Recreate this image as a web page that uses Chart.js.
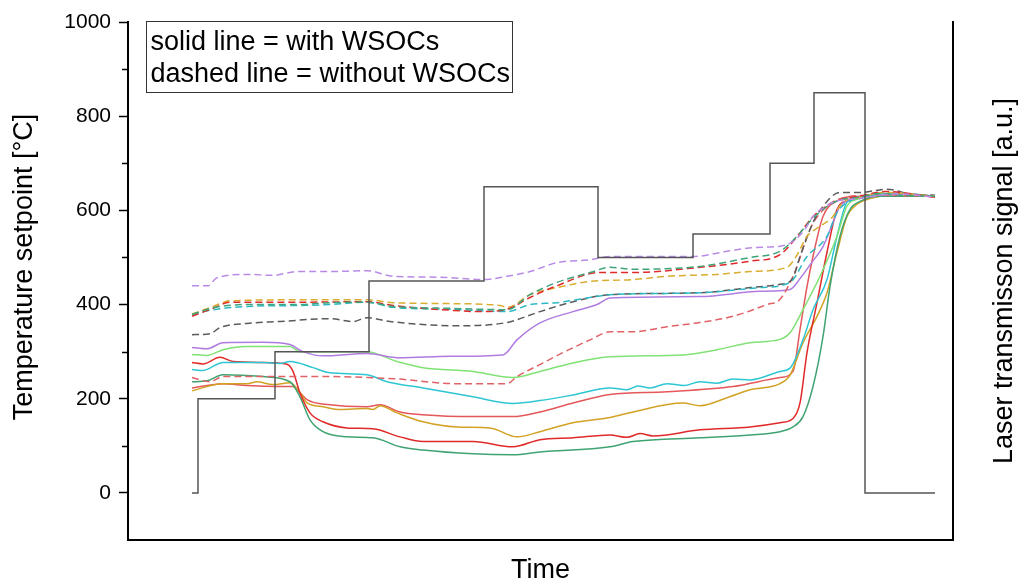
<!DOCTYPE html>
<html>
<head>
<meta charset="utf-8">
<title>Temperature setpoint and laser transmission</title>
<script src="https://cdn.jsdelivr.net/npm/chart.js@4/dist/chart.umd.min.js"></script>
<style>
  html, body { margin: 0; padding: 0; background: #fff; }
  canvas { display: block; }
</style>
</head>
<body>
<canvas id="chart" width="1019" height="584"></canvas>
<script>
// Setpoint program (value holds from each time until the next one)
const setpointTime = [64, 70, 147, 241, 356, 470, 565, 642, 686, 737, 807];
const setpointTemp = [0, 200, 300, 450, 650, 500, 550, 700, 850, 0, 0];

// Laser signals, without WSOCs (dashed)
const purpleDashT = [64, 80, 89, 119, 145, 169, 202, 239, 265, 312, 355, 379, 402, 429, 462, 482, 505, 565, 599, 625, 652, 665, 677, 685, 697, 709, 732, 752, 772, 807];
const purpleDashV = [440, 440, 457, 464, 462, 470, 470, 472, 460, 458, 453, 460, 470, 489, 495, 502, 502, 502, 513, 521, 524, 534, 560, 587, 608, 620, 625, 632, 635, 628];
const greenDashT = [64, 85, 119, 169, 202, 239, 265, 322, 379, 402, 429, 462, 482, 505, 572, 622, 652, 669, 682, 697, 709, 732, 752, 772, 807];
const greenDashV = [379, 393, 400, 400, 404, 405, 396, 392, 389, 421, 447, 468, 479, 475, 481, 500, 513, 545, 577, 605, 620, 628, 636, 632, 630];
const redDashT = [64, 85, 102, 169, 239, 265, 322, 352, 379, 402, 429, 472, 505, 572, 622, 652, 672, 685, 697, 712, 732, 757, 807];
const redDashV = [375, 392, 405, 405, 406, 398, 388, 385, 390, 415, 440, 468, 468, 479, 492, 506, 552, 587, 607, 622, 630, 640, 628];
const orangeDashT = [64, 85, 102, 172, 239, 265, 322, 372, 379, 402, 429, 462, 505, 539, 589, 622, 659, 669, 679, 692, 704, 715, 732, 757, 807];
const orangeDashV = [380, 396, 408, 410, 410, 404, 402, 398, 394, 421, 436, 449, 453, 460, 464, 470, 479, 505, 545, 566, 585, 617, 628, 638, 630];
const cyanDashT = [64, 85, 119, 169, 202, 239, 265, 322, 379, 402, 429, 462, 482, 572, 632, 662, 679, 699, 709, 722, 742, 772, 807];
const cyanDashV = [379, 389, 396, 398, 400, 405, 394, 390, 385, 400, 404, 415, 421, 425, 436, 447, 502, 545, 596, 620, 630, 636, 630];
const grayDashT = [64, 82, 92, 119, 152, 202, 225, 239, 262, 329, 379, 412, 445, 482, 572, 622, 652, 664, 672, 685, 692, 712, 732, 759, 782, 807];
const grayDashV = [336, 338, 351, 360, 364, 370, 364, 372, 364, 355, 362, 385, 406, 421, 425, 436, 443, 453, 502, 574, 600, 638, 638, 645, 635, 632];
const salmonDashT = [64, 82, 95, 145, 202, 239, 269, 329, 379, 389, 415, 435, 462, 482, 505, 539, 572, 605, 639, 652, 667, 682, 697, 712, 742, 807];
const salmonDashV = [245, 236, 247, 247, 247, 245, 242, 232, 232, 247, 276, 298, 325, 342, 342, 353, 362, 375, 400, 411, 470, 560, 605, 625, 632, 630];

// Laser signals, with WSOCs (solid)
const purpleT = [64, 79, 95, 135, 162, 175, 195, 239, 272, 322, 375, 389, 412, 445, 469, 482, 572, 632, 662, 672, 684, 695, 705, 712, 722, 742, 772, 807];
const purpleV = [309, 306, 319, 320, 315, 300, 291, 296, 287, 290, 293, 325, 361, 385, 400, 414, 417, 428, 432, 455, 490, 523, 574, 609, 623, 630, 634, 630];
const lightGreenT = [64, 79, 95, 119, 162, 172, 239, 269, 295, 345, 385, 412, 445, 482, 555, 589, 622, 652, 662, 675, 692, 709, 719, 732, 752, 807];
const lightGreenV = [294, 292, 304, 311, 311, 300, 300, 279, 266, 258, 245, 258, 276, 289, 293, 304, 319, 326, 340, 389, 460, 545, 609, 625, 634, 630];
const cyanT = [64, 75, 95, 135, 152, 162, 185, 202, 239, 259, 295, 345, 385, 412, 445, 482, 499, 510, 522, 539, 556, 572, 589, 605, 622, 652, 662, 675, 685, 699, 709, 719, 732, 752, 807];
const cyanV = [262, 260, 277, 277, 275, 279, 266, 255, 251, 236, 223, 204, 190, 196, 208, 223, 219, 227, 223, 232, 228, 236, 233, 242, 240, 258, 265, 325, 389, 453, 545, 617, 628, 636, 630];
const redT = [64, 75, 92, 105, 135, 159, 165, 172, 182, 195, 219, 245, 272, 295, 345, 385, 412, 445, 482, 499, 512, 525, 572, 622, 652, 665, 672, 679, 689, 699, 709, 719, 742, 772, 807];
const redV = [277, 274, 288, 279, 277, 273, 258, 212, 170, 151, 138, 136, 119, 109, 109, 98, 113, 117, 123, 118, 126, 121, 134, 140, 149, 158, 191, 298, 404, 511, 602, 620, 630, 635, 628];
const greenT = [64, 79, 95, 135, 162, 172, 182, 195, 219, 245, 272, 295, 345, 385, 412, 482, 505, 572, 622, 652, 665, 675, 685, 695, 702, 712, 722, 732, 752, 807];
const greenV = [236, 238, 251, 247, 236, 204, 155, 130, 119, 117, 98, 91, 83, 81, 87, 98, 109, 117, 123, 130, 140, 162, 226, 332, 438, 545, 602, 619, 630, 630];
const orangeT = [64, 95, 119, 129, 145, 162, 172, 179, 195, 212, 239, 245, 252, 269, 295, 329, 362, 389, 412, 445, 482, 505, 555, 572, 599, 622, 652, 662, 675, 689, 699, 709, 719, 729, 742, 772, 807];
const orangeV = [217, 232, 232, 236, 230, 234, 213, 191, 183, 177, 179, 177, 185, 170, 151, 140, 138, 119, 130, 149, 160, 172, 191, 185, 202, 219, 232, 250, 319, 375, 425, 511, 587, 613, 625, 635, 630];
const salmonT = [64, 95, 119, 152, 165, 172, 179, 202, 239, 252, 272, 295, 345, 385, 412, 445, 482, 539, 605, 652, 665, 672, 679, 685, 695, 709, 732, 807];
const salmonV = [223, 232, 228, 226, 226, 213, 198, 187, 183, 187, 172, 166, 162, 162, 172, 191, 209, 215, 226, 245, 258, 347, 438, 502, 587, 620, 630, 630];

const FONT = "'Liberation Sans', Arial, sans-serif";

function makeLine(label, t, v, color, dashed) {
  return {
    label,
    data: t.map((x, i) => ({ x, y: v[i] })),
    borderColor: color,
    backgroundColor: color,
    borderWidth: 1.5,
    borderDash: dashed ? [7, 4] : [],
    pointRadius: 0,
    cubicInterpolationMode: "monotone",
  };
}

// Box with the line-style key in the upper left corner
const noteBox = {
  id: "noteBox",
  afterDatasetsDraw(chart) {
    const { ctx, chartArea } = chart;
    const x = chartArea.left + 18.5;
    const y = chartArea.top - 0.5;
    ctx.save();
    ctx.strokeStyle = "#333";
    ctx.lineWidth = 1;
    ctx.strokeRect(x, y, 366, 71);
    ctx.fillStyle = "#000";
    ctx.font = `27px ${FONT}`;
    ctx.textBaseline = "alphabetic";
    ctx.fillText("solid line = with WSOCs", x + 4, y + 28);
    ctx.fillText("dashed line = without WSOCs", x + 4, y + 60);
    ctx.restore();
  },
};

function drawVerticalTitle(ctx, text, x, y) {
  ctx.save();
  ctx.translate(x, y);
  ctx.rotate(-Math.PI / 2);
  ctx.fillStyle = "#000";
  ctx.font = `27px ${FONT}`;
  ctx.textAlign = "center";
  ctx.textBaseline = "middle";
  ctx.fillText(text, 0, 0);
  ctx.restore();
}

// Short minor ticks on the temperature axis, plus both vertical axis titles
const axisExtras = {
  id: "axisExtras",
  afterDraw(chart) {
    const { ctx, chartArea } = chart;
    const y = chart.scales.y;
    ctx.save();
    ctx.strokeStyle = "#000";
    ctx.lineWidth = 1.5;
    for (let v = 100; v < 1000; v += 200) {
      const py = Math.round(y.getPixelForValue(v)) + 0.5;
      ctx.beginPath();
      ctx.moveTo(chartArea.left - 6, py);
      ctx.lineTo(chartArea.left, py);
      ctx.stroke();
    }
    ctx.restore();
    drawVerticalTitle(ctx, "Temperature setpoint [°C]", 25, 267);
    drawVerticalTitle(ctx, "Laser transmisson signal [a.u.]", 1005, (chartArea.top + chartArea.bottom) / 2);
  },
};

new Chart(document.getElementById("chart"), {
  type: "line",
  data: {
    datasets: [
      {
        label: "Setpoint",
        data: setpointTime.map((x, i) => ({ x, y: setpointTemp[i] })),
        borderColor: "#555",
        borderWidth: 1.5,
        pointRadius: 0,
        stepped: "before",
      },
      makeLine("purple, dashed", purpleDashT, purpleDashV, "#b98be6", true),
      makeLine("green, dashed", greenDashT, greenDashV, "#3fa47a", true),
      makeLine("red, dashed", redDashT, redDashV, "#e02b2b", true),
      makeLine("orange, dashed", orangeDashT, orangeDashV, "#d9ad30", true),
      makeLine("cyan, dashed", cyanDashT, cyanDashV, "#2fb8c4", true),
      makeLine("gray, dashed", grayDashT, grayDashV, "#5a5a5a", true),
      makeLine("salmon, dashed", salmonDashT, salmonDashV, "#e06266", true),
      makeLine("purple", purpleT, purpleV, "#b07ce0", false),
      makeLine("light green", lightGreenT, lightGreenV, "#80e274", false),
      makeLine("cyan", cyanT, cyanV, "#2ec6d2", false),
      makeLine("red", redT, redV, "#e02a2a", false),
      makeLine("green", greenT, greenV, "#3fa472", false),
      makeLine("orange", orangeT, orangeV, "#d2a224", false),
      makeLine("salmon", salmonT, salmonV, "#e4575a", false),
    ],
  },
  options: {
    responsive: false,
    animation: false,
    layout: { padding: { top: 22, left: 0, right: 0, bottom: 0 } },
    plugins: { legend: { display: false }, tooltip: { enabled: false } },
    scales: {
      x: {
        type: "linear",
        min: 0,
        max: 825,
        ticks: { display: false },
        grid: { display: false },
        border: { color: "#000", width: 2 },
        title: {
          display: true,
          text: "Time",
          color: "#000",
          font: { family: FONT, size: 27, lineHeight: 1 },
          padding: { top: 0, bottom: 0 },
        },
        afterFit(scale) {
          scale.height = 44;
        },
      },
      y: {
        position: "left",
        min: -100,
        max: 1000,
        ticks: {
          stepSize: 100,
          color: "#000",
          padding: 8,
          font: { family: FONT, size: 21 },
          callback: (v) => (v % 200 === 0 ? v : ""),
        },
        grid: {
          drawOnChartArea: false,
          tickLength: 9,
          tickWidth: 1.5,
          tickColor: (ctx) => (ctx.tick && ctx.tick.value % 200 === 0 ? "#000" : "rgba(0,0,0,0)"),
        },
        border: { color: "#000", width: 2 },
        afterFit(scale) {
          scale.width = 128;
        },
      },
      y2: {
        position: "right",
        min: -100,
        max: 1000,
        ticks: { display: false },
        grid: { display: false },
        border: { color: "#000", width: 2 },
        afterFit(scale) {
          scale.width = 66;
        },
      },
    },
  },
  plugins: [noteBox, axisExtras],
});
</script>
</body>
</html>
